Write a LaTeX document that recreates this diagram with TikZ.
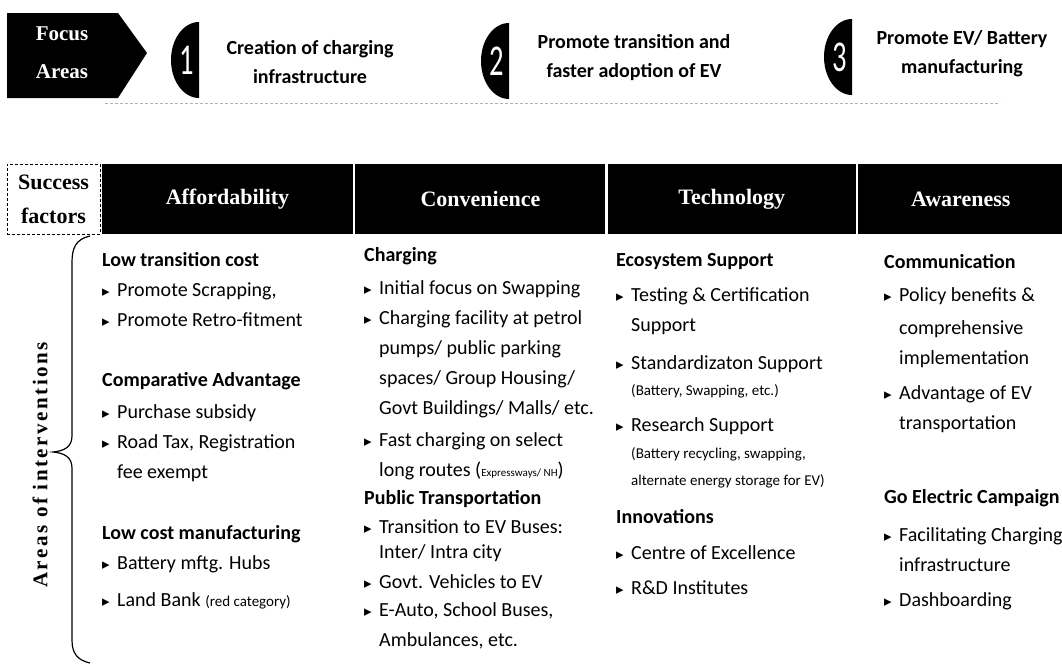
\documentclass[tikz,border=0pt]{standalone}
\usepackage{fontspec}
\setmainfont{Carlito}
\newfontfamily\headfont{Liberation Serif}
\newfontfamily\spacedfont[LetterSpace=12]{Liberation Serif}
\newfontfamily\symfont{DejaVu Sans}
\usetikzlibrary{positioning}
\newcommand{\bul}{\makebox[15pt][l]{\symfont\fontsize{15}{15}\selectfont ▸}}
\newcommand{\sm}{\fontsize{15}{15}\selectfont}
\newcommand{\tn}{\fontsize{11}{11}\selectfont}
\tikzset{
  bar/.style = {fill=black, text=white, inner sep=0, minimum height=70, font=\headfont\bfseries\fontsize{22}{22}\selectfont},
  sub/.style = {anchor=base west, inner sep=0, font=\bfseries\fontsize{20}{20}\selectfont},
  pt/.style = {anchor=base west, inner sep=0, font=\fontsize{20}{20}\selectfont, execute at begin node=\bul},
  cont/.style = {anchor=base west, inner sep=0, font=\fontsize{20}{20}\selectfont, xshift=15pt},
  num/.style = {text=white, inner sep=0, font=\fontsize{44}{44}\selectfont},
  focus/.style = {align=center, inner sep=0, font=\bfseries\fontsize{20}{29}\selectfont}
}

\begin{document}
\begin{tikzpicture}[x=1pt, y=-1pt]
  \useasboundingbox (0,0) rectangle (1062,664);
  \clip (0,0) rectangle (1062,664);

  % focus areas
  \fill (7,13) -- (118,13) -- (147,53) -- (118,98) -- (7,98) -- cycle;
  \node [align=center, inner sep=0, text=white, font=\headfont\bfseries\fontsize{21}{38}\selectfont] (focus) at (62,53) {Focus\\Areas};

  \foreach \n/\x/\y in {1/199/60, 2/509/61, 3/852/57} {
    \fill [shift={(\x,\y)}] (0,-38) .. controls (-15.5,-38) and (-28,-21) .. (-28,0) .. controls (-28,21) and (-15.5,38) .. (0,38) -- cycle;
    \node [num] (num\n) at ({\x-12},\y) {\scalebox{0.65}[1]{\n}};
  }
  \node [focus] (area1) at (310,62) {Creation of charging\\infrastructure};
  \node [focus] (area2) at (634,58) {Promote transition and\\faster adoption of EV};
  \node [focus] (area3) at (962,54) {Promote EV/ Battery\\manufacturing};

  \draw [gray!60, densely dashed] (105,103) -- (1000,103);

  % success factors
  \node [bar, minimum width=251] (afford) at (227.5,199) {Affordability};
  \node [bar, minimum width=250, right=2pt of afford] (conv) {Convenience};
  \node [bar, minimum width=248, right=2pt of conv] (tech) {Technology};
  \node [bar, minimum width=205, right=2pt of tech] (aware) {Awareness};
  \node [draw, densely dashed, align=center, inner sep=0, minimum width=93, minimum height=70,
         font=\headfont\bfseries\fontsize{22}{34}\selectfont] (success) at (53.5,199) {Success\\factors};

  % areas of interventions
  \draw [line width=1.2pt] (90,236) .. controls (76,239) and (72,248) .. (72,262) -- (72,436)
        .. controls (72,447) and (64,451) .. (53,452) .. controls (64,453) and (72,457) .. (72,468)
        -- (72,640) .. controls (72,653) and (77,660) .. (90,663);
  \node [rotate=90, inner sep=0, font=\spacedfont\bfseries\fontsize{21}{21}\selectfont] (areas) at (40,465) {Areas of interventions};

  \foreach \s/\y/\t [count=\i] in {sub/266/{Low transition cost}, pt/296/{Promote Scrapping,},
      pt/326/{Promote Retro-fitment}, sub/386/{Comparative Advantage}, pt/418/{Purchase subsidy},
      pt/448/{Road Tax, Registration}, cont/478/{fee exempt}, sub/539/{Low cost manufacturing},
      pt/569/{Battery mftg. Hubs}, pt/606/{Land Bank {\sm (red category)}}}
    \node [\s] (afford\i) at (102,\y) {\t};

  \foreach \s/\y/\t [count=\i] in {sub/261/{Charging}, pt/294/{Initial focus on Swapping},
      pt/324/{Charging facility at petrol}, cont/354/{pumps/ public parking},
      cont/384/{spaces/ Group Housing/}, cont/414/{Govt Buildings/ Malls/ etc.},
      pt/446/{Fast charging on select}, cont/476/{long routes ({\tn Expressways/ NH})},
      sub/504/{Public Transportation}, pt/533/{Transition to EV Buses:}, cont/558/{Inter/ Intra city},
      pt/588/{Govt. Vehicles to EV}, pt/616/{E-Auto, School Buses,}, cont/646/{Ambulances, etc.}}
    \node [\s] (conv\i) at (364,\y) {\t};

  \foreach \s/\y/\t [count=\i] in {sub/266/{Ecosystem Support}, pt/301/{Testing \& Certification},
      cont/331/{Support}, pt/369/{Standardizaton Support}, cont/395/{\sm (Battery, Swapping, etc.)},
      pt/431/{Research Support}, cont/458/{\sm (Battery recycling, swapping,},
      cont/485/{\sm alternate energy storage for EV)}, sub/523/{Innovations},
      pt/559/{Centre of Excellence}, pt/594/{R\&D Institutes}}
    \node [\s] (tech\i) at (616,\y) {\t};

  \foreach \s/\y/\t [count=\i] in {sub/268/{Communication}, pt/301/{Policy benefits \&},
      cont/334/{comprehensive}, cont/364/{implementation}, pt/399/{Advantage of EV},
      cont/429/{transportation}, sub/503/{Go Electric Campaign}, pt/541/{Facilitating Charging},
      cont/571/{infrastructure}, pt/606/{Dashboarding}}
    \node [\s] (aware\i) at (884,\y) {\t};
\end{tikzpicture}
\end{document}
